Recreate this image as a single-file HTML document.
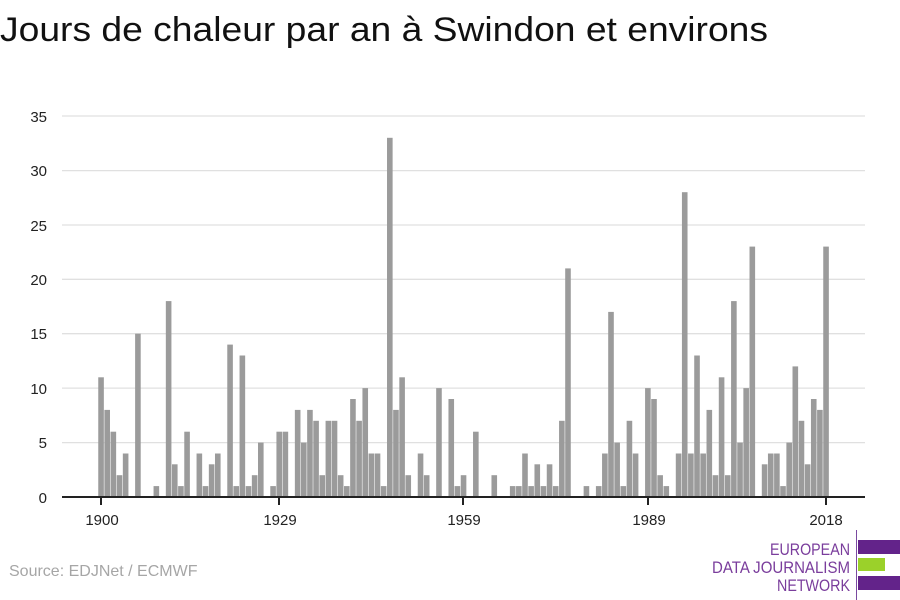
<!DOCTYPE html>
<html><head><meta charset="utf-8"><style>
html,body{margin:0;padding:0;background:#fff;width:900px;height:600px;overflow:hidden}
svg{display:block}
text{font-family:"Liberation Sans",sans-serif}
</style></head><body>
<svg width="900" height="600" xmlns="http://www.w3.org/2000/svg">
<text x="0" y="41" font-size="34" fill="#111" textLength="768" lengthAdjust="spacingAndGlyphs">Jours de chaleur par an à Swindon et environs</text>
<g stroke="#e0e0e0" stroke-width="1.3">
<line x1="62" x2="865" y1="116" y2="116"/><line x1="62" x2="865" y1="170.6" y2="170.6"/><line x1="62" x2="865" y1="225" y2="225"/><line x1="62" x2="865" y1="279.3" y2="279.3"/><line x1="62" x2="865" y1="333.7" y2="333.7"/><line x1="62" x2="865" y1="388.1" y2="388.1"/><line x1="62" x2="865" y1="442.6" y2="442.6"/>
</g>
<g font-size="15" fill="#222" text-anchor="end">
<text x="47" y="122">35</text><text x="47" y="176">30</text><text x="47" y="231">25</text><text x="47" y="285">20</text><text x="47" y="339">15</text><text x="47" y="394">10</text><text x="47" y="448">5</text><text x="47" y="503">0</text>
</g>
<g fill="#9b9b9b">
<rect x="98.25" y="377.3" width="5.6" height="119.7"/>
<rect x="104.39" y="409.9" width="5.6" height="87.1"/>
<rect x="110.54" y="431.7" width="5.6" height="65.3"/>
<rect x="116.68" y="475.2" width="5.6" height="21.8"/>
<rect x="122.83" y="453.5" width="5.6" height="43.5"/>
<rect x="135.11" y="333.7" width="5.6" height="163.3"/>
<rect x="153.55" y="486.1" width="5.6" height="10.9"/>
<rect x="165.83" y="301.1" width="5.6" height="195.9"/>
<rect x="171.98" y="464.3" width="5.6" height="32.7"/>
<rect x="178.12" y="486.1" width="5.6" height="10.9"/>
<rect x="184.27" y="431.7" width="5.6" height="65.3"/>
<rect x="196.55" y="453.5" width="5.6" height="43.5"/>
<rect x="202.70" y="486.1" width="5.6" height="10.9"/>
<rect x="208.84" y="464.3" width="5.6" height="32.7"/>
<rect x="214.99" y="453.5" width="5.6" height="43.5"/>
<rect x="227.27" y="344.6" width="5.6" height="152.4"/>
<rect x="233.42" y="486.1" width="5.6" height="10.9"/>
<rect x="239.56" y="355.5" width="5.6" height="141.5"/>
<rect x="245.71" y="486.1" width="5.6" height="10.9"/>
<rect x="251.85" y="475.2" width="5.6" height="21.8"/>
<rect x="258.00" y="442.6" width="5.6" height="54.4"/>
<rect x="270.28" y="486.1" width="5.6" height="10.9"/>
<rect x="276.43" y="431.7" width="5.6" height="65.3"/>
<rect x="282.57" y="431.7" width="5.6" height="65.3"/>
<rect x="294.86" y="409.9" width="5.6" height="87.1"/>
<rect x="301.00" y="442.6" width="5.6" height="54.4"/>
<rect x="307.15" y="409.9" width="5.6" height="87.1"/>
<rect x="313.29" y="420.8" width="5.6" height="76.2"/>
<rect x="319.43" y="475.2" width="5.6" height="21.8"/>
<rect x="325.58" y="420.8" width="5.6" height="76.2"/>
<rect x="331.72" y="420.8" width="5.6" height="76.2"/>
<rect x="337.87" y="475.2" width="5.6" height="21.8"/>
<rect x="344.01" y="486.1" width="5.6" height="10.9"/>
<rect x="350.15" y="399.0" width="5.6" height="98.0"/>
<rect x="356.30" y="420.8" width="5.6" height="76.2"/>
<rect x="362.44" y="388.1" width="5.6" height="108.9"/>
<rect x="368.59" y="453.5" width="5.6" height="43.5"/>
<rect x="374.73" y="453.5" width="5.6" height="43.5"/>
<rect x="380.87" y="486.1" width="5.6" height="10.9"/>
<rect x="387.02" y="137.8" width="5.6" height="359.2"/>
<rect x="393.16" y="409.9" width="5.6" height="87.1"/>
<rect x="399.31" y="377.3" width="5.6" height="119.7"/>
<rect x="405.45" y="475.2" width="5.6" height="21.8"/>
<rect x="417.74" y="453.5" width="5.6" height="43.5"/>
<rect x="423.88" y="475.2" width="5.6" height="21.8"/>
<rect x="436.17" y="388.1" width="5.6" height="108.9"/>
<rect x="448.46" y="399.0" width="5.6" height="98.0"/>
<rect x="454.60" y="486.1" width="5.6" height="10.9"/>
<rect x="460.75" y="475.2" width="5.6" height="21.8"/>
<rect x="473.03" y="431.7" width="5.6" height="65.3"/>
<rect x="491.47" y="475.2" width="5.6" height="21.8"/>
<rect x="509.90" y="486.1" width="5.6" height="10.9"/>
<rect x="516.04" y="486.1" width="5.6" height="10.9"/>
<rect x="522.19" y="453.5" width="5.6" height="43.5"/>
<rect x="528.33" y="486.1" width="5.6" height="10.9"/>
<rect x="534.47" y="464.3" width="5.6" height="32.7"/>
<rect x="540.62" y="486.1" width="5.6" height="10.9"/>
<rect x="546.76" y="464.3" width="5.6" height="32.7"/>
<rect x="552.91" y="486.1" width="5.6" height="10.9"/>
<rect x="559.05" y="420.8" width="5.6" height="76.2"/>
<rect x="565.19" y="268.4" width="5.6" height="228.6"/>
<rect x="583.63" y="486.1" width="5.6" height="10.9"/>
<rect x="595.91" y="486.1" width="5.6" height="10.9"/>
<rect x="602.06" y="453.5" width="5.6" height="43.5"/>
<rect x="608.20" y="311.9" width="5.6" height="185.1"/>
<rect x="614.35" y="442.6" width="5.6" height="54.4"/>
<rect x="620.49" y="486.1" width="5.6" height="10.9"/>
<rect x="626.63" y="420.8" width="5.6" height="76.2"/>
<rect x="632.78" y="453.5" width="5.6" height="43.5"/>
<rect x="645.07" y="388.1" width="5.6" height="108.9"/>
<rect x="651.21" y="399.0" width="5.6" height="98.0"/>
<rect x="657.35" y="475.2" width="5.6" height="21.8"/>
<rect x="663.50" y="486.1" width="5.6" height="10.9"/>
<rect x="675.79" y="453.5" width="5.6" height="43.5"/>
<rect x="681.93" y="192.2" width="5.6" height="304.8"/>
<rect x="688.07" y="453.5" width="5.6" height="43.5"/>
<rect x="694.22" y="355.5" width="5.6" height="141.5"/>
<rect x="700.36" y="453.5" width="5.6" height="43.5"/>
<rect x="706.51" y="409.9" width="5.6" height="87.1"/>
<rect x="712.65" y="475.2" width="5.6" height="21.8"/>
<rect x="718.79" y="377.3" width="5.6" height="119.7"/>
<rect x="724.94" y="475.2" width="5.6" height="21.8"/>
<rect x="731.08" y="301.1" width="5.6" height="195.9"/>
<rect x="737.23" y="442.6" width="5.6" height="54.4"/>
<rect x="743.37" y="388.1" width="5.6" height="108.9"/>
<rect x="749.51" y="246.6" width="5.6" height="250.4"/>
<rect x="761.80" y="464.3" width="5.6" height="32.7"/>
<rect x="767.95" y="453.5" width="5.6" height="43.5"/>
<rect x="774.09" y="453.5" width="5.6" height="43.5"/>
<rect x="780.23" y="486.1" width="5.6" height="10.9"/>
<rect x="786.38" y="442.6" width="5.6" height="54.4"/>
<rect x="792.52" y="366.4" width="5.6" height="130.6"/>
<rect x="798.67" y="420.8" width="5.6" height="76.2"/>
<rect x="804.81" y="464.3" width="5.6" height="32.7"/>
<rect x="810.95" y="399.0" width="5.6" height="98.0"/>
<rect x="817.10" y="409.9" width="5.6" height="87.1"/>
<rect x="823.24" y="246.6" width="5.6" height="250.4"/>
</g>
<line x1="62" x2="865" y1="497" y2="497" stroke="#222" stroke-width="2"/>
<g stroke="#222" stroke-width="2">
<line x1="101" x2="101" y1="497" y2="505"/><line x1="279" x2="279" y1="497" y2="505"/><line x1="463" x2="463" y1="497" y2="505"/><line x1="648" x2="648" y1="497" y2="505"/><line x1="826" x2="826" y1="497" y2="505"/>
</g>
<g font-size="15" fill="#222" text-anchor="middle">
<text x="102" y="525">1900</text><text x="280" y="525">1929</text><text x="464" y="525">1959</text><text x="649" y="525">1989</text><text x="826" y="525">2018</text>
</g>
<text x="9" y="576" font-size="16" fill="#a6a6a6">Source: EDJNet / ECMWF</text>
<line x1="856.5" x2="856.5" y1="530" y2="600" stroke="#7a4aa0" stroke-width="1"/>
<rect x="858" y="540" width="42" height="14" fill="#63238a"/>
<rect x="858" y="558" width="27" height="13" fill="#9bd12a"/>
<rect x="858" y="576" width="42" height="14" fill="#63238a"/>
<g font-size="16.5" fill="#7a3d9c" text-anchor="end">
<text x="850" y="555" textLength="80" lengthAdjust="spacingAndGlyphs">EUROPEAN</text>
<text x="850" y="573" textLength="138" lengthAdjust="spacingAndGlyphs">DATA JOURNALISM</text>
<text x="850" y="591" textLength="73" lengthAdjust="spacingAndGlyphs">NETWORK</text>
</g>
</svg>
</body></html>
